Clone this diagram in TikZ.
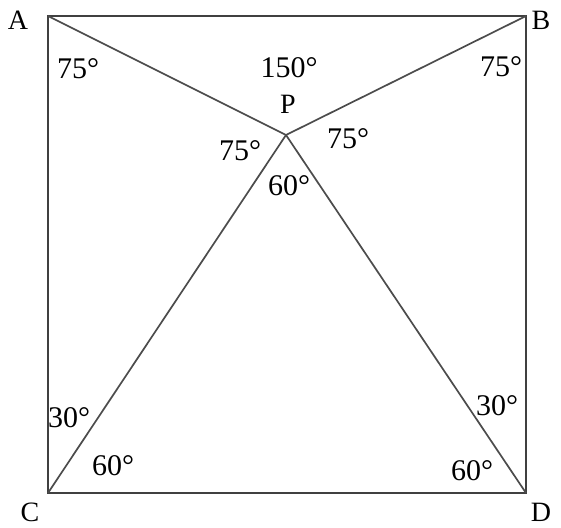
\documentclass[tikz,border=0pt]{standalone}
\usepackage{fontspec}
\setmainfont{Liberation Serif}

\begin{document}
\begin{tikzpicture}[
    x=1pt, y=-1pt,
    side/.style={
        draw=black!75,
        line width=2pt
    },
    cut/.style={
        draw=black!70,
        line width=1.7pt
    },
    vertex/.style={
        font=\fontsize{28}{30}\selectfont,
        inner sep=0pt
    },
    angle/.style={
        font=\fontsize{30}{32}\selectfont,
        inner sep=0pt
    }
]

\useasboundingbox (0,0) rectangle (561,527);

% --- Corners of the square and the point P ---
\coordinate (a) at (48,16);
\coordinate (b) at (526,16);
\coordinate (c) at (48,493);
\coordinate (d) at (526,493);
\coordinate (p) at (286,135);

% --- Square ---
\draw[side] (a) -- (b) -- (d) -- (c) -- cycle;

% --- Lines to P ---
\draw[cut] (a) -- (p);
\draw[cut] (b) -- (p);
\draw[cut] (c) -- (p);
\draw[cut] (d) -- (p);

% --- Vertex labels ---
\node[vertex] (la) at (18,20) {A};
\node[vertex] (lb) at (541,20) {B};
\node[vertex] (lc) at (30,512) {C};
\node[vertex] (ld) at (541,512) {D};
\node[vertex] (lp) at (288,104) {P};

% --- Angle labels ---
\node[angle] (a1) at (78,69) {75°};
\node[angle] (a2) at (289,68) {150°};
\node[angle] (a3) at (501,67) {75°};
\node[angle] (a4) at (240,151) {75°};
\node[angle] (a5) at (348,139) {75°};
\node[angle] (a6) at (289,186) {60°};
\node[angle] (a7) at (69,418) {30°};
\node[angle] (a8) at (113,466) {60°};
\node[angle] (a9) at (497,406) {30°};
\node[angle] (a10) at (472,471) {60°};

\end{tikzpicture}
\end{document}
